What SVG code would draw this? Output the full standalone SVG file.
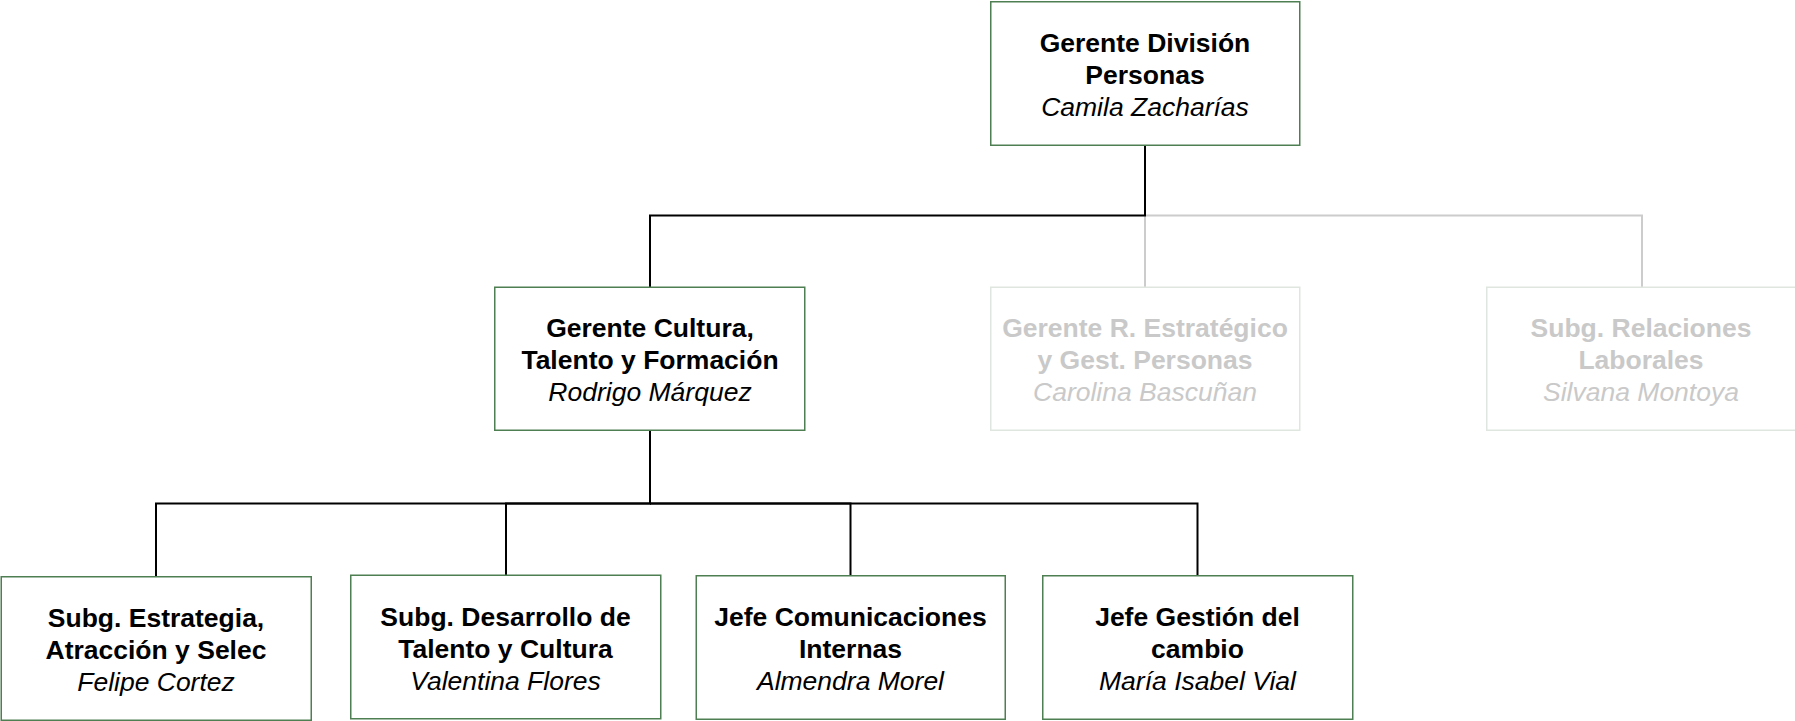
<svg xmlns="http://www.w3.org/2000/svg" width="1795" height="721" viewBox="0 0 1795 721">
<style>
.box{fill:#fff;stroke:#4e7f52;stroke-width:1.5}
.gbox{fill:#fff;stroke:#dfe6df;stroke-width:1.5}
text{font-family:"Liberation Sans",Arial,sans-serif;font-size:26.5px;text-anchor:middle;fill:#000}
.b{font-weight:bold}
.i{font-style:italic}
.g{fill:#c9c9c9}
.c{fill:none;stroke:#000;stroke-width:2}
.cg{fill:none;stroke:#cccccc;stroke-width:2}
</style>
<rect width="1795" height="721" fill="#fff"/>
<g id="connectors">
<path class="cg" d="M1145,215.5 H1642 V287"/>
<path class="cg" d="M1145,215.5 V287"/>
<path class="c" d="M1145,145 V215.5 H650 V287"/>
<path class="c" d="M650,430 V503.5 H156 V577"/>
<path class="c" d="M650,430 V503.5 H506 V575"/>
<path class="c" d="M650,503.5 H850.5 V575"/>
<path class="c" d="M650,503.5 H1197.5 V575"/>
</g>
<g id="n-gerente-division">
<rect class="box" x="990.75" y="1.75" width="309" height="143.5"/>
<text class="b" x="1145" y="51.5">Gerente División</text>
<text class="b" x="1145" y="83.5">Personas</text>
<text class="i" x="1145" y="115.5">Camila Zacharías</text>
</g>
<g id="n-gerente-cultura">
<rect class="box" x="494.75" y="287.25" width="310" height="143"/>
<text class="b" x="650" y="337">Gerente Cultura,</text>
<text class="b" x="650" y="369">Talento y Formación</text>
<text class="i" x="650" y="401">Rodrigo Márquez</text>
</g>
<g id="n-gerente-r">
<rect class="gbox" x="990.75" y="287.25" width="309" height="143"/>
<text class="b g" x="1145" y="337">Gerente R. Estratégico</text>
<text class="b g" x="1145" y="369">y Gest. Personas</text>
<text class="i g" x="1145" y="401">Carolina Bascuñan</text>
</g>
<g id="n-subg-relaciones">
<rect class="gbox" x="1486.75" y="287.25" width="310" height="143"/>
<text class="b g" x="1641" y="337">Subg. Relaciones</text>
<text class="b g" x="1641" y="369">Laborales</text>
<text class="i g" x="1641" y="401">Silvana Montoya</text>
</g>
<g id="n-subg-estrategia">
<rect class="box" x="1.25" y="576.75" width="310" height="143.5"/>
<text class="b" x="156" y="627">Subg. Estrategia,</text>
<text class="b" x="156" y="659">Atracción y Selec</text>
<text class="i" x="156" y="691">Felipe Cortez</text>
</g>
<g id="n-subg-desarrollo">
<rect class="box" x="350.75" y="575.25" width="310" height="143.5"/>
<text class="b" x="505.5" y="625.5">Subg. Desarrollo de</text>
<text class="b" x="505.5" y="657.5">Talento y Cultura</text>
<text class="i" x="505.5" y="689.5">Valentina Flores</text>
</g>
<g id="n-jefe-comunicaciones">
<rect class="box" x="696.25" y="575.75" width="309" height="143.5"/>
<text class="b" x="850.5" y="626">Jefe Comunicaciones</text>
<text class="b" x="850.5" y="658">Internas</text>
<text class="i" x="850.5" y="690">Almendra Morel</text>
</g>
<g id="n-jefe-gestion">
<rect class="box" x="1042.75" y="575.75" width="310" height="143.5"/>
<text class="b" x="1197.5" y="626">Jefe Gestión del</text>
<text class="b" x="1197.5" y="658">cambio</text>
<text class="i" x="1197.5" y="690">María Isabel Vial</text>
</g>
</svg>
